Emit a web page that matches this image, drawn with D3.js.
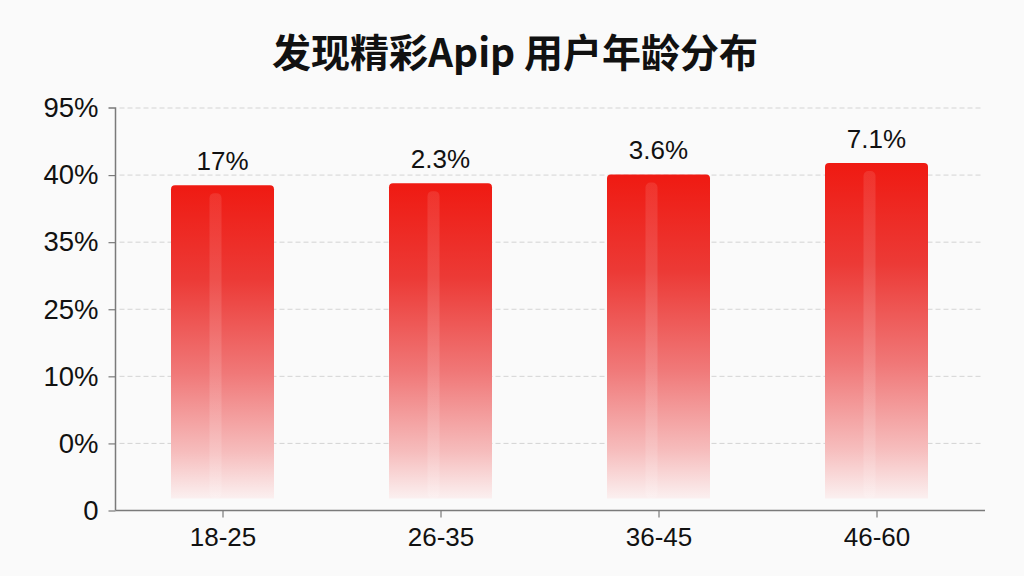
<!DOCTYPE html>
<html lang="zh">
<head>
    <meta charset="UTF-8">
    <title>发现精彩Apip 用户年龄分布</title>
    <script src="https://d3js.org/d3.v7.min.js"></script>
    <style>
        body { margin: 0; background: #fafafa; }
        svg { display: block; }
    </style>
</head>
<body>
    <script>
        // chart data
        let categories = ["18-25", "26-35", "36-45", "46-60"];
        let values = [48.5, 48.8, 50.1, 51.8];          // bar height in axis units
        let valueLabels = ["17%", "2.3%", "3.6%", "7.1%"];
        let tickValues = [0, 10, 20, 30, 40, 50, 60];
        let tickLabels = ["0", "0%", "10%", "25%", "35%", "40%", "95%"];

        let width = 1024;
        let height = 576;

        let svg = d3.select("body")
            .append("svg")
            .attr("width", width)
            .attr("height", height);

        svg.append("rect")
            .attr("width", width)
            .attr("height", height)
            .attr("fill", "#fafafa");

        let y = d3.scaleLinear().domain([0, 60]).range([510.5, 108]);
        let x = d3.scalePoint().domain(categories).range([222.5, 876.5]);
        let barWidth = 103;
        let axisLeft = 115.5, axisRight = 985;

        // gradient for the bars
        let defs = svg.append("defs");
        let grad = defs.append("linearGradient")
            .attr("id", "barGrad")
            .attr("x1", 0).attr("y1", 0).attr("x2", 0).attr("y2", 1);
        grad.append("stop").attr("offset", "0%").attr("stop-color", "#ef1a12");
        grad.append("stop").attr("offset", "30%").attr("stop-color", "#ec3a36");
        grad.append("stop").attr("offset", "60%").attr("stop-color", "#f07878");
        grad.append("stop").attr("offset", "85%").attr("stop-color", "#f6bcbc");
        grad.append("stop").attr("offset", "100%").attr("stop-color", "#fbf0f0");

        let stripe = defs.append("linearGradient")
            .attr("id", "stripeGrad")
            .attr("x1", 0).attr("y1", 0).attr("x2", 0).attr("y2", 1);
        stripe.append("stop").attr("offset", "0%").attr("stop-color", "#ffffff").attr("stop-opacity", 0.1);
        stripe.append("stop").attr("offset", "100%").attr("stop-color", "#ffffff").attr("stop-opacity", 0.14);

        // dashed grid lines
        svg.append("g")
            .selectAll("line")
            .data(tickValues.slice(1))
            .enter()
            .append("line")
            .attr("x1", axisLeft + 4)
            .attr("x2", 983)
            .attr("y1", d => y(d))
            .attr("y2", d => y(d))
            .style("stroke", "#d4d4d4")
            .style("stroke-width", 1)
            .style("stroke-dasharray", "5,3");

        // bars
        let bottom = y(0) - 12;
        svg.append("g")
            .selectAll("path")
            .data(values)
            .enter()
            .append("path")
            .attr("d", (d, i) => {
                let x0 = x(categories[i]) - barWidth / 2;
                let top = y(d);
                let r = 4;
                return `M${x0},${bottom} V${top + r} Q${x0},${top} ${x0 + r},${top} H${x0 + barWidth - r} Q${x0 + barWidth},${top} ${x0 + barWidth},${top + r} V${bottom} Z`;
            })
            .style("fill", "url(#barGrad)");

        // lighter inner stripe
        svg.append("g")
            .selectAll("rect")
            .data(values)
            .enter()
            .append("rect")
            .attr("x", (d, i) => x(categories[i]) - 13)
            .attr("y", d => y(d) + 8)
            .attr("width", 12)
            .attr("height", d => bottom - y(d) - 8)
            .attr("rx", 5)
            .style("fill", "url(#stripeGrad)");

        // value labels
        svg.append("g")
            .selectAll("text")
            .data(values)
            .enter()
            .append("text")
            .attr("x", (d, i) => x(categories[i]))
            .attr("y", d => y(d) - 15)
            .attr("text-anchor", "middle")
            .style("font-family", "'Liberation Sans', Arial, sans-serif")
            .style("font-size", "26px")
            .style("fill", "#111")
            .text((d, i) => valueLabels[i]);

        // y axis
        let yAxis = svg.append("g")
            .attr("transform", `translate(${axisLeft},0)`)
            .call(d3.axisLeft(y)
                .tickValues(tickValues)
                .tickSize(7)
                .tickPadding(10)
                .tickFormat((d, i) => tickLabels[i]));

        // x axis
        let xAxis = svg.append("g")
            .attr("transform", `translate(0,${y(0)})`)
            .call(d3.axisBottom(x).tickSize(7).tickPadding(10));

        xAxis.select(".domain").attr("d", `M${axisLeft},0H${axisRight}`);

        [yAxis, xAxis].forEach(g => {
            g.select(".domain").style("stroke", "#7a7a7a").style("stroke-width", 1.5);
            g.selectAll(".tick line").style("stroke", "#7a7a7a").style("stroke-width", 1.2);
            g.selectAll("text")
                .style("font-family", "'Liberation Sans', Arial, sans-serif")
                .style("font-size", "26px")
                .style("fill", "#111");
        });
        yAxis.selectAll("text").style("font-size", "27.5px");
        yAxis.select(".domain").attr("d", `M-7,${y(60)}H0V${y(0)}`);
        yAxis.selectAll(".tick").filter(d => d === 60).select("line").remove();

        // title
        svg.append("text")
            .attr("x", 515)
            .attr("y", 67)
            .attr("text-anchor", "middle")
            .style("font-family", "'Noto Sans CJK SC', sans-serif")
            .style("font-weight", "bold")
            .style("font-size", "39px")
            .style("fill", "#111")
            .text("发现精彩Apip 用户年龄分布");
    </script>
</body>
</html>
